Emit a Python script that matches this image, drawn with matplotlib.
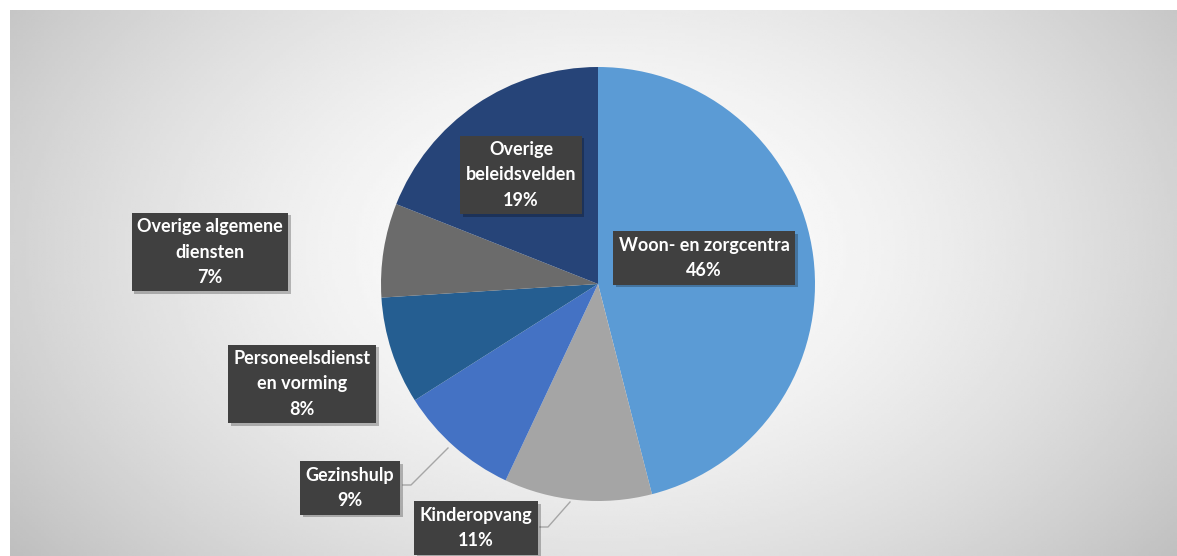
import numpy as np
import matplotlib.pyplot as plt
import matplotlib.patheffects as pe

# slices, clockwise from 12 o'clock
labels = ["Woon- en zorgcentra", "Kinderopvang", "Gezinshulp",
          "Personeelsdienst\nen vorming", "Overige algemene\ndiensten",
          "Overige\nbeleidsvelden"]
values = [46, 11, 9, 8, 7, 19]
colors = ["#5b9bd5", "#a5a5a5", "#4472c4", "#255e91", "#6b6b6b", "#264478"]

# label box centres in pixel coords (x from left, y from top)
label_px = [(704, 258), (476, 528), (350, 488), (302, 384), (210, 252), (521, 175)]

W, H = 1177, 556
fig = plt.figure(figsize=(W / 100, H / 100), dpi=100)
ax = fig.add_axes([0, 0, 1, 1])

# background: white margin, then radial grey gradient
gx, gy = np.meshgrid(np.linspace(10, W, 400), np.linspace(0, H - 10, 200))
d = np.sqrt(((gx - 600) / 620.0) ** 2 + ((gy - (H - 250)) / 420.0) ** 2)
shade = 1.0 - 0.19 * np.clip(d, 0, 1.2) ** 1.6
ax.imshow(shade, cmap="gray", vmin=0, vmax=1, extent=[10, W, 0, H - 10],
          origin="lower", zorder=0, interpolation="bilinear")

cx, cy, r = 598, H - 284, 217
wedges, _ = ax.pie(values, colors=colors, startangle=90, counterclock=False,
                   center=(cx, cy), radius=r, frame=False,
                   wedgeprops=dict(linewidth=0))
for w in wedges:
    w.set_zorder(2)

# leader lines for the two small labels at the bottom
ax.plot([403, 411, 448], [H - 485, H - 485, H - 448], color="#a6a6a6", lw=1, zorder=1)
ax.plot([540, 548, 570], [H - 527, H - 527, H - 502], color="#a6a6a6", lw=1, zorder=1)

for lab, v, (px, py) in zip(labels, values, label_px):
    t = ax.text(px, H - py, "%s\n%d%%" % (lab, v), ha="center", va="center",
                fontsize=13, fontweight="bold", family=["Lato", "DejaVu Sans"],
                linespacing=1.6, color="white", zorder=4,
                bbox=dict(boxstyle="square,pad=0.3", fc="#404040", ec="none"))
    t.get_bbox_patch().set_path_effects(
        [pe.SimplePatchShadow(offset=(2, -2), shadow_rgbFace="black", alpha=0.25), pe.Normal()])

ax.set_xlim(0, W)
ax.set_ylim(0, H)
ax.set_aspect("auto")
ax.axis("off")

fig.savefig("out.png", dpi=100, facecolor="white")
